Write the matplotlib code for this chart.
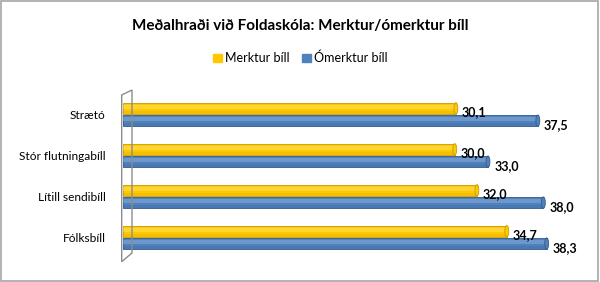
import numpy as np
import matplotlib.pyplot as plt
from matplotlib.patches import Polygon, Rectangle, Ellipse

plt.rcParams.update({
    "font.family": ["Lato", "DejaVu Sans"],
    "font.size": 9,
})

categories = ["Fólksbíll", "Lítill sendibíll", "Stór flutningabíll", "Strætó"]
merktur = [34.7, 32.0, 30.0, 30.1]
omerktur = [38.3, 38.0, 33.0, 37.5]
series_names = ["Merktur bíll", "Ómerktur bíll"]

yellow = "#FFC800"
yellow_edge = "#C89B00"
blue = "#4F81BD"
blue_edge = "#34598A"

fig = plt.figure(figsize=(6, 2.82), dpi=100)
ax = fig.add_axes([122.5 / 600, 1 - 262 / 282, 443 / 600, 172 / 282])

y = np.arange(len(categories))
h = 0.28
off = 0.15


def cyl_bars(ypos, vals, face, edge, light):
    ax.barh(ypos, vals, height=h, color=face, edgecolor=edge, linewidth=0.6, zorder=2)
    # soft highlight / shadow for the cylinder look
    ax.barh(ypos + h * 0.15, vals, height=h * 0.35, color=light, linewidth=0, zorder=3, alpha=0.35)
    ax.barh(ypos - h * 0.35, vals, height=h * 0.22, color=edge, linewidth=0, zorder=3, alpha=0.2)
    for yy, v in zip(ypos, vals):
        ax.add_patch(Ellipse((v, yy), 0.35, h, facecolor=face, edgecolor=edge,
                             linewidth=0.6, zorder=4))


cyl_bars(y + off, merktur, yellow, yellow_edge, "#FFEE99")
cyl_bars(y - off, omerktur, blue, blue_edge, "#A9C4E6")

for yy, v in zip(y + off, merktur):
    ax.text(v + 0.55, yy - 0.1, f"{v:.1f}".replace(".", ","), va="center", ha="left",
            fontweight="bold", fontsize=9, zorder=5)
for yy, v in zip(y - off, omerktur):
    ax.text(v + 0.55, yy - 0.1, f"{v:.1f}".replace(".", ","), va="center", ha="left",
            fontweight="bold", fontsize=9, zorder=5)

ax.set_xlim(0, 40)
ax.set_ylim(-0.6, 3.6)
ax.set_yticks(y)
ax.set_yticklabels(categories, fontsize=8.6)
ax.tick_params(axis="y", length=0, pad=12)
ax.set_xticks([])
for s in ax.spines.values():
    s.set_visible(False)

# 3D wall on the left
wall = Polygon([(121.7 / 600, 1 - 261.7 / 282), (121.7 / 600, 1 - 95 / 282),
                (132 / 600, 1 - 90 / 282), (132 / 600, 1 - 253 / 282)],
               closed=True, transform=fig.transFigure, facecolor="none",
               edgecolor="#8C8C8C", linewidth=1.0, zorder=1)
fig.patches.append(wall)

# outer frame
fig.patches.append(Rectangle((0.002, 0.004), 0.995, 0.992, transform=fig.transFigure,
                             facecolor="none", edgecolor="#A6A6A6", linewidth=1.2))

fig.text(0.5, 1 - 26 / 282, "Meðalhraði við Foldaskóla: Merktur/ómerktur bíll",
         ha="center", va="center", fontsize=11, fontweight="bold")

handles = [Rectangle((0, 0), 1, 1, color=yellow), Rectangle((0, 0), 1, 1, color=blue)]
fig.legend(handles, series_names, loc="center", bbox_to_anchor=(0.5, 1 - 58 / 282),
           ncol=2, frameon=False, fontsize=9, handlelength=0.7, handleheight=0.7,
           handletextpad=0.25, columnspacing=1.0)

fig.savefig("out.png", dpi=100)
